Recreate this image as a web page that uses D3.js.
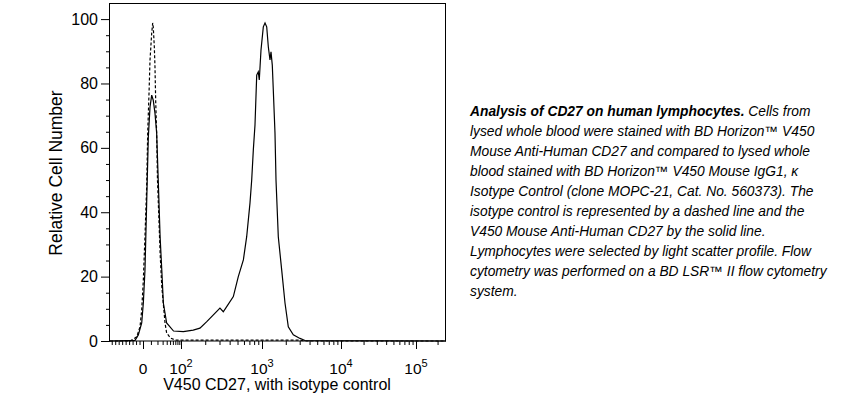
<!DOCTYPE html>
<meta charset="utf-8">
<style>
    body {
        margin: 0;
        background: #ffffff;
    }

    svg {
        display: block;
        font-family: Arial, "Liberation Sans", sans-serif;
    }

    .tick line {
        stroke: #000000;
    }

    .caption {
        font-size: 13.8px;
        font-style: italic;
        fill: #000000;
    }
</style>

<body>
<script src="https://cdn.jsdelivr.net/npm/d3@7"></script>
<script>

    // CD27 histogram (solid line): channel value, relative cell number
    const cd27Values = [-95, -23, -13.5, -3.7, 0.4, 2.4, 4.5, 6.6, 8.8, 11.1, 13.3, 15.9, 18.6, 21.5, 24.8, 28.2,
        31.6, 39.8, 62.6, 107, 142, 172, 209, 252, 304, 334, 368, 444, 511, 590, 648, 712, 747, 782, 820, 861,
        900, 926, 972, 1039, 1092, 1147, 1202, 1262, 1300, 1350, 1390, 1460, 1504, 1608, 1776, 1955, 2152, 2490,
        3028, 3500, 262144];
    const cd27Counts = [0, 0.2, 1.9, 5.6, 11.8, 22, 42.9, 63.4, 72.7, 76.4, 74.8, 70.8, 64.6, 49.1, 32.3, 22,
        11.8, 5.6, 3.1, 2.9, 3.4, 4.0, 6.0, 8.1, 10.2, 9.1, 10.7, 13.8, 20.0, 25.2, 32.4, 42.9, 50.0, 59.3, 67.1, 82.6,
        83.6, 81.1, 90.4, 97.6, 98.8, 97.6, 91.4, 87.3, 89.8, 85.7, 78.0, 64.6, 50.0, 32.4, 22.0, 11.8, 4.4, 1.9,
        0.8, 0.15, 0];

    // isotype control histogram (dashed line)
    const isoValues = [-95, -37, -18, -8.6, -3.7, 0.4, 2.4, 4.5, 5.8, 7.5, 8.8, 11.1, 12.5, 13.3, 14.9, 15.9,
        17.0, 18.6, 20.0, 21.5, 24.8, 28.2, 35.6, 39.8, 51.6, 70, 2900, 3500, 262144];
    const isoCounts = [0, 0, 1.3, 4.4, 9.6, 18.9, 32.4, 47.9, 64.6, 77.0, 87.3, 95.7, 98.8, 97.6, 91.4, 85.2,
        74.8, 64.6, 50.0, 42.9, 27.3, 16.9, 5.6, 2.5, 0.9, 0.3, 0.3, 0, 0];

    const yMajorTicks = [0, 20, 40, 60, 80, 100];
    const yMinorTicks = [5, 10, 15, 25, 30, 35, 45, 50, 55, 65, 70, 75, 85, 90, 95];

    const xMajorTicks = [0, 100, 1000, 10000, 100000];
    const xMajorLabels = [["0", ""], ["10", "2"], ["10", "3"], ["10", "4"], ["10", "5"]];
    const xMinorTicks = [-90, -80, -70, -60, -50, -40, -30, -20, -10, 10, 20, 30, 40, 50, 60, 70, 80, 90,
        200, 300, 400, 500, 600, 700, 800, 900, 2000, 3000, 4000, 5000, 6000, 7000, 8000, 9000,
        20000, 30000, 40000, 50000, 60000, 70000, 80000, 90000, 200000];

    const captionLines = [
        "lysed whole blood were stained with BD Horizon™ V450",
        "Mouse Anti-Human CD27 and compared to lysed whole",
        "blood stained with BD Horizon™ V450 Mouse IgG1, κ",
        "Isotype Control (clone MOPC-21, Cat. No. 560373). The",
        "isotype control is represented by a dashed line and the",
        "V450 Mouse Anti-Human CD27 by the solid line.",
        "Lymphocytes were selected by light scatter profile. Flow",
        "cytometry was performed on a BD LSR™ II flow cytometry",
        "system."
    ];

    let width = 848,
        height = 397;

    let svg = d3.select("body").append("svg")
        .attr("width", width)
        .attr("height", height);

    // biexponential-like display: linear below zero, asinh above
    const T = v => v < 0 ? v / 20 : Math.asinh(v / 20);

    let xScale = d3.scaleLinear()
        .domain([-95, 0, 100, 1000, 10000, 100000, 262144].map(T))
        .range([110, 143, 181, 262, 341, 416, 446]);

    let yScale = d3.scaleLinear()
        .domain([0, 105])
        .range([341, 3]);

    const x = v => xScale(T(v));

    // y axis
    svg.append("g")
        .attr("transform", "translate(110,0)")
        .call(d3.axisLeft(yScale).tickValues(yMinorTicks).tickSize(4).tickFormat(""))
        .call(g => g.select(".domain").remove());

    svg.append("g")
        .attr("transform", "translate(110,0)")
        .call(d3.axisLeft(yScale).tickValues(yMajorTicks).tickSize(9).tickPadding(3))
        .call(g => g.select(".domain").remove())
        .selectAll("text")
        .style("font-size", "16px")
        .style("font-family", "Arial, 'Liberation Sans', sans-serif")
        .attr("fill", "#000");

    // x axis
    svg.append("g")
        .attr("transform", "translate(0,341)")
        .call(d3.axisBottom(xScale).tickValues(xMinorTicks.map(T)).tickSize(4).tickFormat(""))
        .call(g => g.select(".domain").remove());

    svg.append("g")
        .attr("transform", "translate(0,341)")
        .call(d3.axisBottom(xScale).tickValues(xMajorTicks.map(T)).tickSize(8).tickFormat(""))
        .call(g => g.select(".domain").remove());

    let xLabels = svg.append("g")
        .selectAll("text")
        .data(xMajorTicks)
        .join("text")
        .attr("x", d => x(d))
        .attr("y", 374)
        .attr("text-anchor", "middle")
        .style("font-size", "15.5px");

    xLabels.append("tspan")
        .text((d, i) => xMajorLabels[i][0]);

    xLabels.append("tspan")
        .attr("dy", -7)
        .style("font-size", "11px")
        .text((d, i) => xMajorLabels[i][1]);

    // frame
    svg.append("rect")
        .attr("x", 109.5)
        .attr("y", 3.5)
        .attr("width", 336)
        .attr("height", 337.5)
        .style("fill", "none")
        .style("stroke", "#000")
        .style("stroke-width", 1);

    let line = d3.line()
        .x(d => x(d[0]))
        .y(d => yScale(d[1]));

    svg.append("path")
        .datum(d3.zip(isoValues, isoCounts))
        .attr("d", line)
        .style("fill", "none")
        .style("stroke", "#000")
        .style("stroke-width", 1.2)
        .style("stroke-dasharray", "3,2");

    svg.append("path")
        .datum(d3.zip(cd27Values, cd27Counts))
        .attr("d", line)
        .style("fill", "none")
        .style("stroke", "#000")
        .style("stroke-width", 1.2);

    // axis titles
    svg.append("text")
        .attr("x", 277)
        .attr("y", 390)
        .attr("text-anchor", "middle")
        .style("font-size", "16px")
        .text("V450 CD27, with isotype control");

    svg.append("text")
        .attr("transform", "translate(62,173) rotate(-90)")
        .attr("text-anchor", "middle")
        .style("font-size", "17.5px")
        .text("Relative Cell Number");

    // caption
    let caption = svg.append("text")
        .attr("class", "caption")
        .attr("x", 470)
        .attr("y", 116);

    caption.append("tspan")
        .style("font-weight", "bold")
        .text("Analysis of CD27 on human lymphocytes.");

    caption.append("tspan")
        .text(" Cells from");

    captionLines.forEach(function (item, index) {
        svg.append("text")
            .attr("class", "caption")
            .attr("x", 470)
            .attr("y", 136 + index * 20)
            .text(item);
    });

</script>
